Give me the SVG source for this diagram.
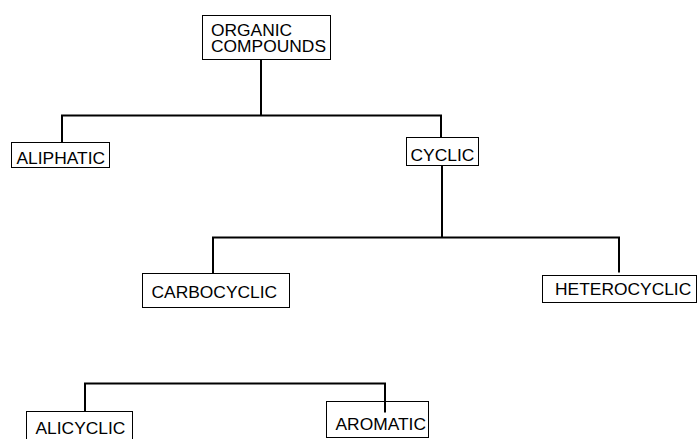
<svg xmlns="http://www.w3.org/2000/svg" width="697" height="439" viewBox="0 0 697 439">
<style>
.box{fill:#fff;stroke:#000;stroke-width:1}
.t{font-family:"Liberation Sans",Arial,sans-serif;font-size:17.4px;fill:#000}
.c{fill:none;stroke:#000;stroke-width:2}
</style>
<rect width="697" height="439" fill="#fff"/>
<g id="organic">
<rect class="box" x="202.5" y="15.5" width="128" height="44"/>
<text class="t"><tspan x="211" y="35.5">ORGANIC</tspan><tspan x="211" y="51.5">COMPOUNDS</tspan></text>
</g>
<g id="aliphatic">
<rect class="box" x="11.5" y="142.5" width="98" height="25"/>
<text class="t" x="16.5" y="163.5">ALIPHATIC</text>
</g>
<g id="cyclic">
<rect class="box" x="406.5" y="137.5" width="72" height="28"/>
<text class="t" x="410.5" y="160.5">CYCLIC</text>
</g>
<g id="carbocyclic">
<rect class="box" x="142.5" y="273.5" width="147" height="34"/>
<text class="t" x="151.5" y="297.5">CARBOCYCLIC</text>
</g>
<g id="heterocyclic">
<rect class="box" x="542.5" y="275.5" width="154" height="27"/>
<text class="t" x="555" y="295">HETEROCYCLIC</text>
</g>
<g id="alicyclic">
<rect class="box" x="26.5" y="411.5" width="106" height="30"/>
<text class="t" x="35.5" y="433.5">ALICYCLIC</text>
</g>
<g id="aromatic">
<rect class="box" x="326.5" y="401.5" width="102" height="36"/>
<text class="t" x="335.5" y="429.5">AROMATIC</text>
</g>
<g id="connectors">
<path class="c" d="M261 59V115.5M62 143V115.5H441V137.5"/>
<path class="c" d="M442 166V237.5M213 273V237.5H619V272.5"/>
<path class="c" d="M85 412V383.5H385V412.5"/>
</g>
</svg>
